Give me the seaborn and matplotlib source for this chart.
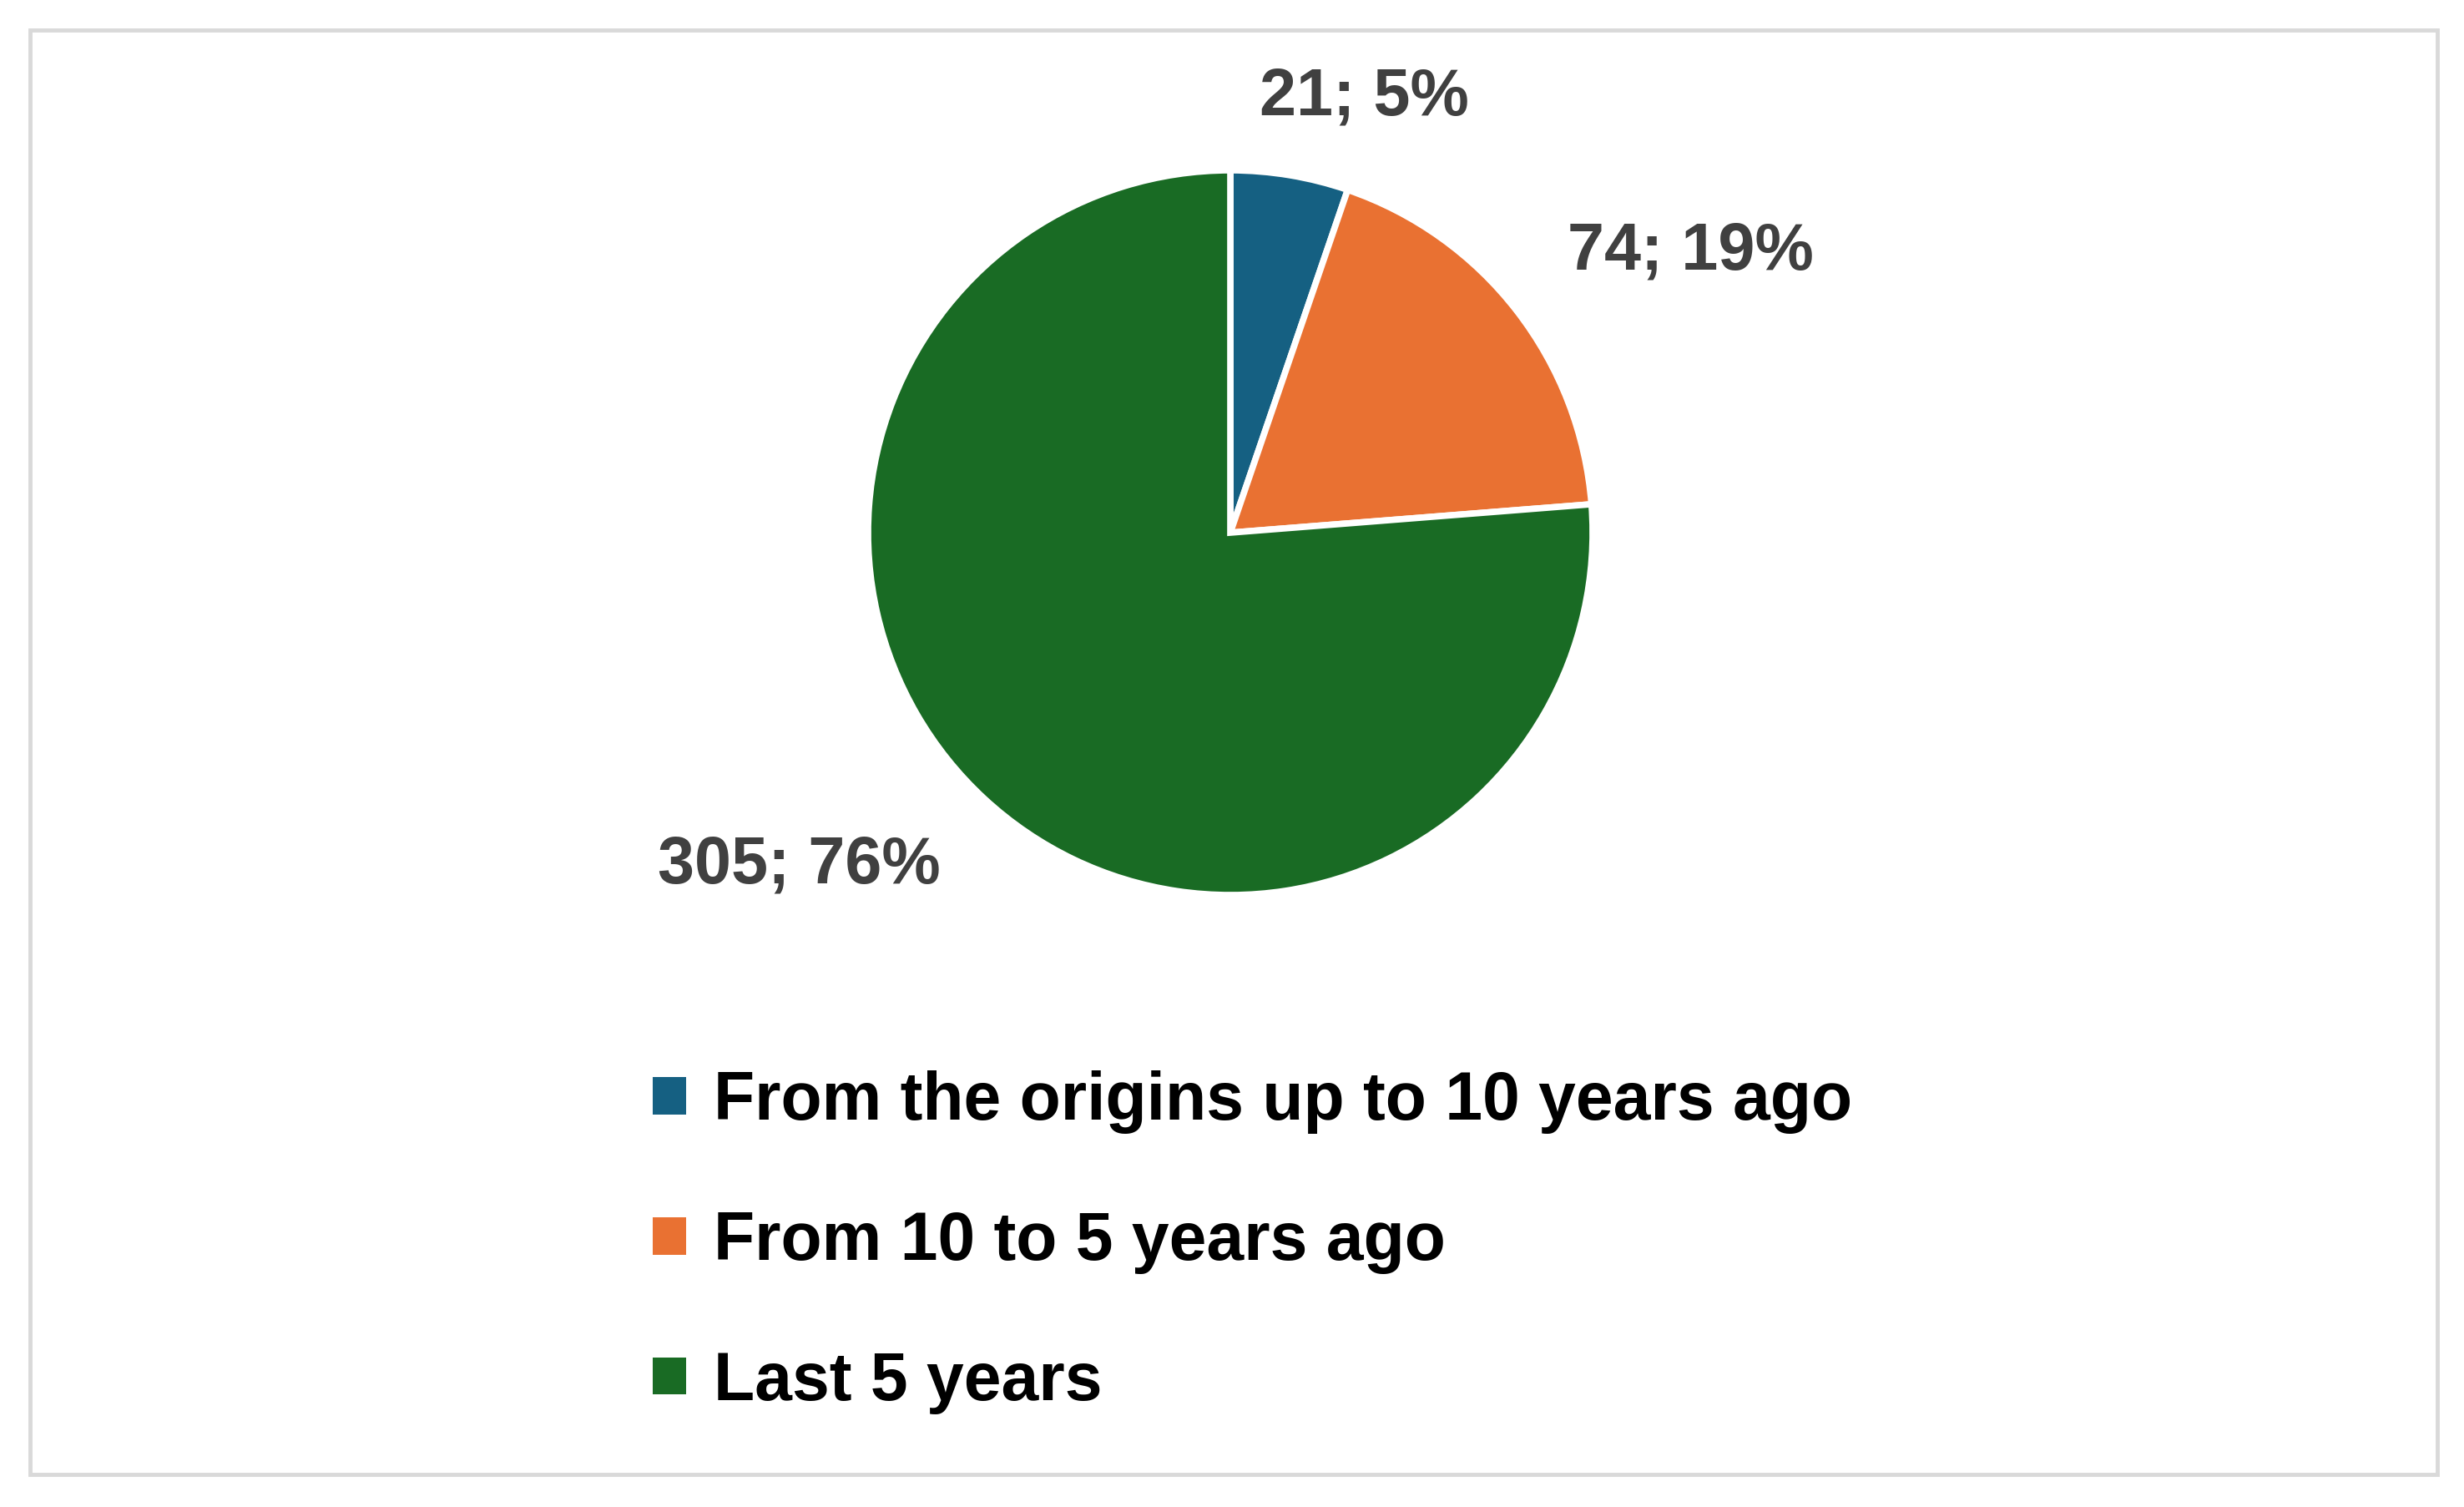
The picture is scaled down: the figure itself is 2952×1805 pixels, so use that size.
import matplotlib
matplotlib.use("Agg")
import matplotlib.pyplot as plt
import seaborn as sns
from matplotlib.patches import Rectangle

# data
categories = ["From the origins up to 10 years ago", "From 10 to 5 years ago", "Last 5 years"]
counts = [21, 74, 305]
colors = ["#156082", "#E97132", "#196B24"]

sns.set_theme(style="white")
plt.rcParams['font.family'] = ['Liberation Sans Narrow', 'Liberation Sans', 'DejaVu Sans']

W, H = 2952, 1805
fig = plt.figure(figsize=(W / 100, H / 100), dpi=100)
fig.patch.set_facecolor("white")

# outer light-gray frame
fig.patches.append(Rectangle((36 / W, 1 - 1766 / H), (2920 - 36) / W, (1766 - 36) / H,
                             transform=fig.transFigure, fill=False,
                             edgecolor="#D9D9D9", linewidth=3.5))

# pie axes: center (1474, 638), radius 434 px
cx, cy, r = 1474, 638, 434
ax = fig.add_axes([(cx - r) / W, 1 - (cy + r) / H, 2 * r / W, 2 * r / H])
wedges, _ = ax.pie(counts, colors=colors, startangle=90, counterclock=False,
                   wedgeprops=dict(edgecolor="white", linewidth=5.5))
ax.set_xlim(-1, 1)
ax.set_ylim(-1, 1)
ax.set_aspect("equal")
ax.axis("off")

total = sum(counts)
labels = [f"{c}; {int(c / total * 100 + 0.5)}%" for c in counts]
label_pos = [(0.37, 1.20), (1.27, 0.775), (-1.19, -0.92)]
for lab, (x, y) in zip(labels, label_pos):
    ax.text(x, y, lab, ha="center", va="center", fontsize=57, fontweight="bold",
            color="#404040", clip_on=False)

leg = fig.legend(wedges, categories, loc="center left",
                 bbox_to_anchor=(782 / W, 1 - 1488 / H), frameon=False,
                 prop=dict(weight="bold", size=58),
                 handlelength=0.5, handleheight=0.47, handletextpad=0.4,
                 labelspacing=1.14, borderpad=0, borderaxespad=0)
for t in leg.get_texts():
    t.set_color("black")
for h in leg.legend_handles:
    h.set_edgecolor("none")

fig.savefig("out.png", dpi=100, facecolor="white")
